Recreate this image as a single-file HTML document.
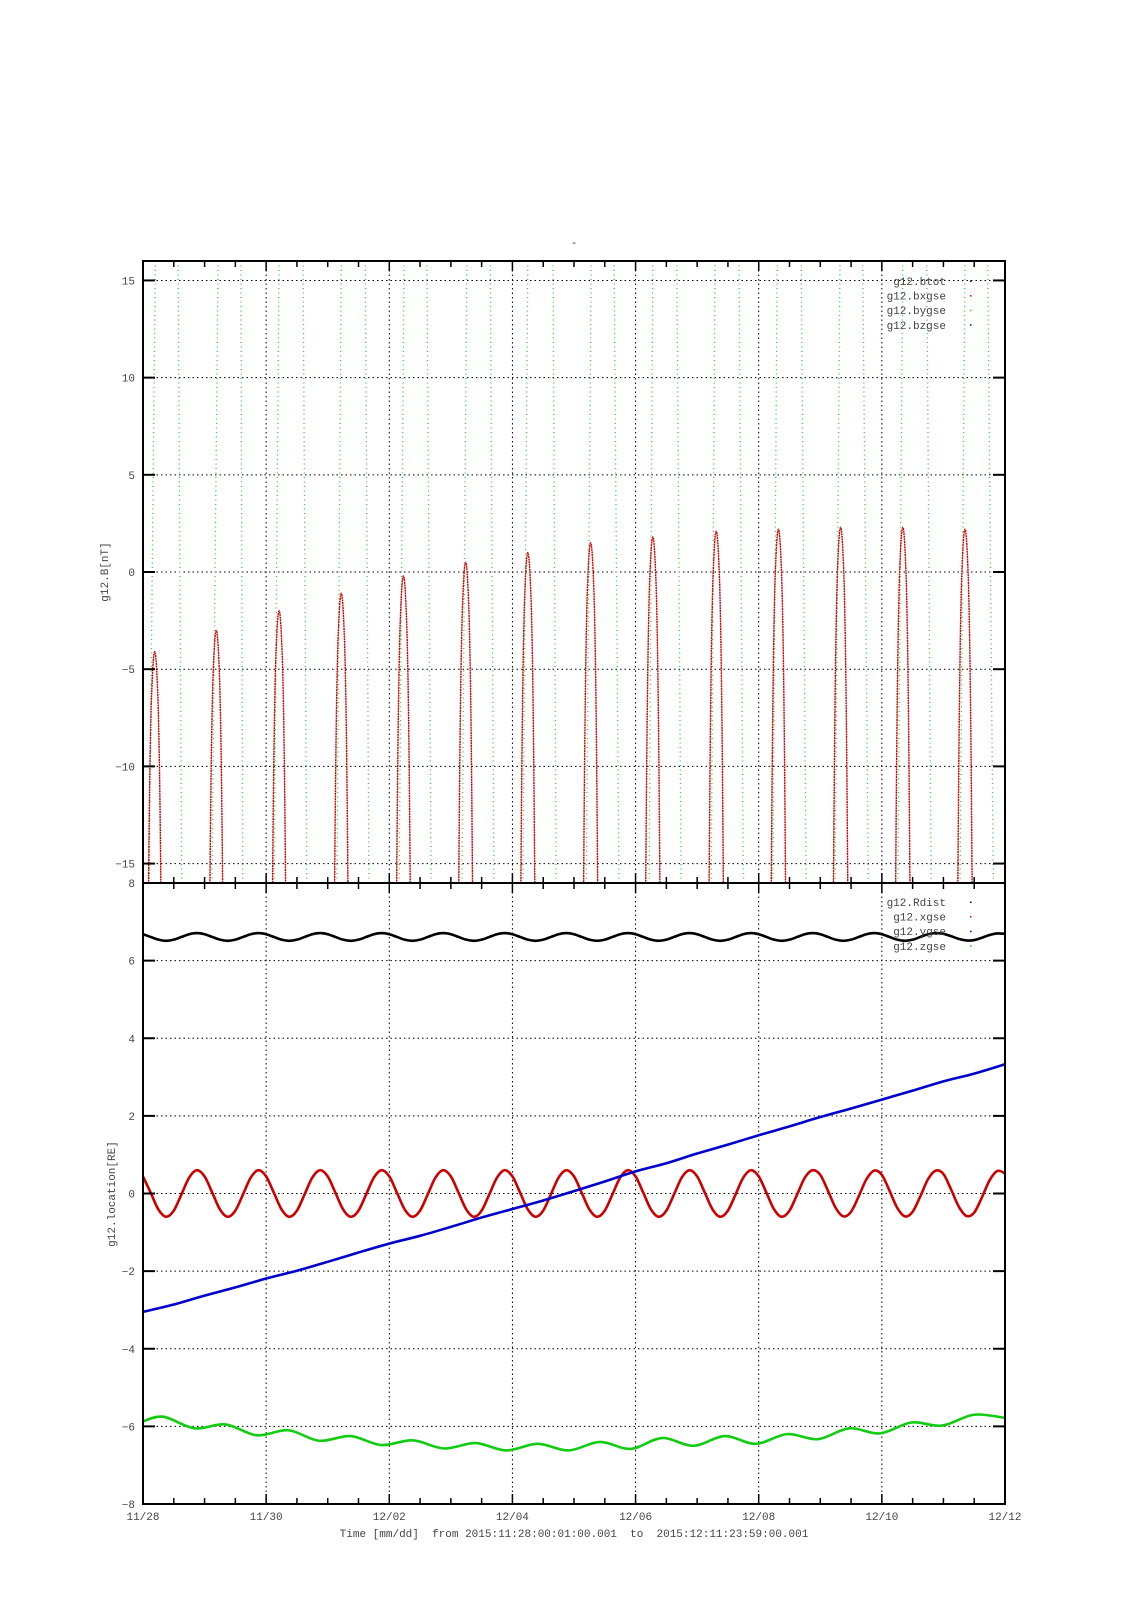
<!DOCTYPE html>
<html><head><meta charset="utf-8"><title>g12 plot</title>
<style>
html,body{margin:0;padding:0;background:#fff;}
svg{display:block;}
text{font-family:"Liberation Mono",monospace;font-size:11px;fill:#444;}
</style></head>
<body>
<svg id="chart" width="1131" height="1600" viewBox="0 0 1131 1600" xmlns="http://www.w3.org/2000/svg">
<rect width="1131" height="1600" fill="#fff"/>
<text x="574" y="246" text-anchor="middle">-</text>
<g id="top"></g>
<g id="bot"></g>
<text transform="translate(108,572) rotate(-90)" text-anchor="middle">g12.B[nT]</text>
<text transform="translate(115,1194) rotate(-90)" text-anchor="middle">g12.location[RE]</text>
<text x="574" y="1537" text-anchor="middle" xml:space="preserve" style="white-space:pre">Time [mm/dd]  from 2015:11:28:00:01:00.001  to  2015:12:11:23:59:00.001</text>
</svg>
<script>
// ---- data ----
const xTickLabels = ["11/28","11/30","12/02","12/04","12/06","12/08","12/10","12/12"];
const topYTicks = [15,10,5,0,-5,-10,-15];
const botYTicks = [8,6,4,2,0,-2,-4,-6,-8];
// top panel: bxgse peaks (days, nT)
const redPeakT = [0.19,1.19,2.21,3.22,4.23,5.24,6.25,7.27,8.28,9.31,10.32,11.33,12.34,13.35];
const redPeakV = [-4.1,-3.0,-2.0,-1.1,-0.2,0.5,1.0,1.5,1.8,2.1,2.2,2.3,2.3,2.2];
const archOffsets = [-0.12,-0.1,-0.08,-0.06,-0.045,-0.03,-0.015,0,0.015,0.03,0.045,0.06,0.08,0.1,0.12];
const archDrops = [20,12,6.5,3.2,1.8,0.8,0.2,0,0.2,0.8,1.8,3.2,6.5,12,20];
// bygse near-vertical traces (days at top edge / bottom edge)
const greenTopT = [0.20,0.57,1.22,1.59,2.21,2.60,3.22,3.61,4.24,4.61,5.26,5.64,6.25,6.66,7.28,7.65,8.28,8.67,9.29,9.68,10.30,10.69,11.32,11.69,12.34,12.73,13.35,13.72];
const greenBotT = [0.10,0.63,1.12,1.62,2.13,2.66,3.15,3.67,4.16,4.68,5.18,5.70,6.17,6.71,7.20,7.73,8.22,8.74,9.23,9.75,10.23,10.77,11.24,11.78,12.26,12.80,13.27,13.81];
// bottom panel series
const stepT = 0.125;
const rdist = [
6.68,6.61,6.54,6.51,6.54,6.61,6.68,6.71, 6.68,6.61,6.54,6.51,6.54,6.61,6.68,6.71,
6.68,6.61,6.54,6.51,6.54,6.61,6.68,6.71, 6.68,6.61,6.54,6.51,6.54,6.61,6.68,6.71,
6.68,6.61,6.54,6.51,6.54,6.61,6.68,6.71, 6.68,6.61,6.54,6.51,6.54,6.61,6.68,6.71,
6.68,6.61,6.54,6.51,6.54,6.61,6.68,6.71, 6.68,6.61,6.54,6.51,6.54,6.61,6.68,6.71,
6.68,6.61,6.54,6.51,6.54,6.61,6.68,6.71, 6.68,6.61,6.54,6.51,6.54,6.61,6.68,6.71,
6.68,6.61,6.54,6.51,6.54,6.61,6.68,6.71, 6.68,6.61,6.54,6.51,6.54,6.61,6.68,6.71,
6.68,6.61,6.54,6.51,6.54,6.61,6.68,6.71, 6.69,6.63,6.56,6.52,6.53,6.59,6.66,6.70, 6.69];
const xgse = [
0.44,0.02,-0.41,-0.60,-0.44,-0.02,0.41,0.60, 0.44,0.02,-0.41,-0.60,-0.44,-0.02,0.41,0.60,
0.44,0.02,-0.41,-0.60,-0.44,-0.02,0.41,0.60, 0.44,0.02,-0.41,-0.60,-0.44,-0.02,0.41,0.60,
0.44,0.02,-0.41,-0.60,-0.44,-0.02,0.41,0.60, 0.44,0.02,-0.41,-0.60,-0.44,-0.02,0.41,0.60,
0.44,0.02,-0.41,-0.60,-0.44,-0.02,0.41,0.60, 0.44,0.02,-0.41,-0.60,-0.44,-0.02,0.41,0.60,
0.44,0.02,-0.41,-0.60,-0.44,-0.02,0.41,0.60, 0.44,0.02,-0.41,-0.60,-0.44,-0.02,0.41,0.60,
0.44,0.02,-0.41,-0.60,-0.44,-0.02,0.41,0.60, 0.48,0.07,-0.37,-0.59,-0.47,-0.07,0.37,0.59,
0.48,0.07,-0.37,-0.59,-0.47,-0.07,0.37,0.59, 0.50,0.10,-0.34,-0.58,-0.49,-0.10,0.34,0.58, 0.52];
const ygseStep = 0.5;
const ygse = [-3.05,-2.86,-2.63,-2.42,-2.19,-1.99,-1.76,-1.52,-1.29,-1.09,-0.86,-0.62,-0.40,-0.18,0.06,0.31,0.57,0.78,1.03,1.26,1.50,1.73,1.97,2.19,2.42,2.65,2.89,3.09,3.33];
const zgseT = [0,0.33,0.84,1.34,1.85,2.36,2.86,3.37,3.87,4.38,4.89,5.40,5.90,6.41,6.91,7.42,7.92,8.43,8.94,9.45,9.95,10.46,10.96,11.47,11.97,12.48,12.98,13.49,14];
const zgseV = [-5.87,-5.75,-6.05,-5.95,-6.23,-6.10,-6.37,-6.25,-6.48,-6.36,-6.57,-6.43,-6.62,-6.45,-6.62,-6.40,-6.58,-6.30,-6.50,-6.25,-6.45,-6.20,-6.33,-6.05,-6.18,-5.90,-5.98,-5.70,-5.78];

// ---- layout ----
const NS = "http://www.w3.org/2000/svg";
const L = 143, R = 1005, T1 = 261, B1 = 883, T2 = 883, B2 = 1504;
const DAYS = 14;
const xs = t => L + (t / DAYS) * (R - L);
const yTop = v => T1 + (16 - v) / 32 * (B1 - T1);
const yBot = v => T2 + (8 - v) / 16 * (B2 - T2);

function el(tag, attrs, parent) {
  const e = document.createElementNS(NS, tag);
  for (const k in attrs) e.setAttribute(k, attrs[k]);
  parent.appendChild(e);
  return e;
}
function smoothPath(pts) {
  let d = "M" + pts[0][0].toFixed(2) + "," + pts[0][1].toFixed(2);
  for (let i = 0; i < pts.length - 1; i++) {
    const p0 = pts[Math.max(0, i - 1)], p1 = pts[i], p2 = pts[i + 1], p3 = pts[Math.min(pts.length - 1, i + 2)];
    const c1x = p1[0] + (p2[0] - p0[0]) / 6, c1y = p1[1] + (p2[1] - p0[1]) / 6;
    const c2x = p2[0] - (p3[0] - p1[0]) / 6, c2y = p2[1] - (p3[1] - p1[1]) / 6;
    d += "C" + c1x.toFixed(2) + "," + c1y.toFixed(2) + " " + c2x.toFixed(2) + "," + c2y.toFixed(2) + " " + p2[0].toFixed(2) + "," + p2[1].toFixed(2);
  }
  return d;
}

const svg = document.getElementById("chart");
const gTop = document.getElementById("top");
const gBot = document.getElementById("bot");

const defs = el("defs", {}, svg);
const c1 = el("clipPath", {id: "clipTop"}, defs);
el("rect", {x: L, y: T1, width: R - L, height: B1 - T1}, c1);
const c2 = el("clipPath", {id: "clipBot"}, defs);
el("rect", {x: L, y: T2, width: R - L, height: B2 - T2}, c2);

function grid(g, top, bottom, yTicks, yf, name) {
  for (let i = 1; i < xTickLabels.length - 1; i++) {
    const x = xs(i * 2);
    const ln = el("line", {x1: x, y1: top, x2: x, y2: bottom, stroke: "#000", "stroke-width": 1, "stroke-dasharray": "1.5,3"}, g);
    
    
  }
  yTicks.forEach(v => {
    const y = yf(v);
    if (y <= top + 1 || y >= bottom - 1) return;
    const ln = el("line", {x1: L, y1: y, x2: R, y2: y, stroke: "#000", "stroke-width": 1, "stroke-dasharray": "1.5,3"}, g);
    
    
  });
}
function axes(g, top, bottom, yTicks, yf, name) {
  for (let k = 0; k <= DAYS * 2; k++) {
    const x = xs(k / 2);
    const len = (k % 4 === 0) ? 10 : 6;
    [[top, top + len], [bottom, bottom - len]].forEach(p => {
      const t = el("line", {x1: x, y1: p[0], x2: x, y2: p[1], stroke: "#000", "stroke-width": 1.5}, g);
      
      
    });
  }
  yTicks.forEach(v => {
    const y = yf(v);
    [[L, L + 12], [R, R - 12]].forEach(p => {
      const t = el("line", {x1: p[0], y1: y, x2: p[1], y2: y, stroke: "#000", "stroke-width": 2}, g);
      
      
    });
    const lb = el("text", {x: L - 8, y: y + 4, "text-anchor": "end"}, g);
    lb.textContent = String(v).replace("-", "\u2212");
    
    
  });
  const fr = el("rect", {x: L, y: top, width: R - L, height: bottom - top, fill: "none", stroke: "#000", "stroke-width": 2}, g);
  
  
}
function legend(g, names, colors, y0, name) {
  names.forEach((n, i) => {
    const y = y0 + i * 14.6;
    const t = el("text", {x: 946, y: y + 4, "text-anchor": "end"}, g);
    t.textContent = n;
    
    
    const s = el("rect", {x: 970, y: y - 0.5, width: 1.5, height: 1.5, fill: colors[i]}, g);
    
    
  });
}

// ---- top panel ----
grid(gTop, T1, B1, topYTicks, yTop, "top");
const topSeries = el("g", {"clip-path": "url(#clipTop)"}, gTop);


greenTopT.forEach((t, i) => {
  const ln = el("line", {x1: xs(t), y1: yTop(16), x2: xs(greenBotT[i]), y2: yTop(-16), stroke: "#33cc33", "stroke-width": 1.3, "stroke-dasharray": "1,3.5"}, topSeries);
  
  
});
redPeakT.forEach((tp, i) => {
  const pts = archOffsets.map((o, j) => [xs(tp + o), yTop(redPeakV[i] - archDrops[j])]);
  const p = el("path", {d: smoothPath(pts), fill: "none", stroke: "#cc0000", "stroke-width": 1.4, "stroke-dasharray": "2,0.6"}, topSeries);
  
  
});
axes(gTop, T1, B1, topYTicks, yTop, "top");
legend(gTop, ["g12.btot","g12.bxgse","g12.bygse","g12.bzgse"], ["#000","#cc0000","#33cc33","#0000cc"], 281, "top");

// ---- bottom panel ----
grid(gBot, T2, B2, botYTicks, yBot, "bottom");
const botSeries = el("g", {"clip-path": "url(#clipBot)"}, gBot);


function drawSeries(pts, color, nm) {
  const p = el("path", {d: smoothPath(pts), fill: "none", stroke: color, "stroke-width": 2.6, "stroke-linejoin": "round"}, botSeries);
  
  
}
drawSeries(rdist.map((v, i) => [xs(i * stepT), yBot(v)]), "#000", "rdist-line");
drawSeries(xgse.map((v, i) => [xs(i * stepT), yBot(v)]), "#cc0000", "xgse-line");
drawSeries(ygse.map((v, i) => [xs(i * ygseStep), yBot(v)]), "#0000cc", "ygse-line");
drawSeries(zgseT.map((t, i) => [xs(t), yBot(zgseV[i])]), "#11cc11", "zgse-line");
axes(gBot, T2, B2, botYTicks, yBot, "bottom");
legend(gBot, ["g12.Rdist","g12.xgse","g12.ygse","g12.zgse"], ["#000","#cc0000","#0000cc","#11cc11"], 902, "bottom");

xTickLabels.forEach((lab, i) => {
  const t = el("text", {x: xs(i * 2), y: 1520, "text-anchor": "middle"}, svg);
  t.textContent = lab;
  
  
});
</script>
</body></html>
